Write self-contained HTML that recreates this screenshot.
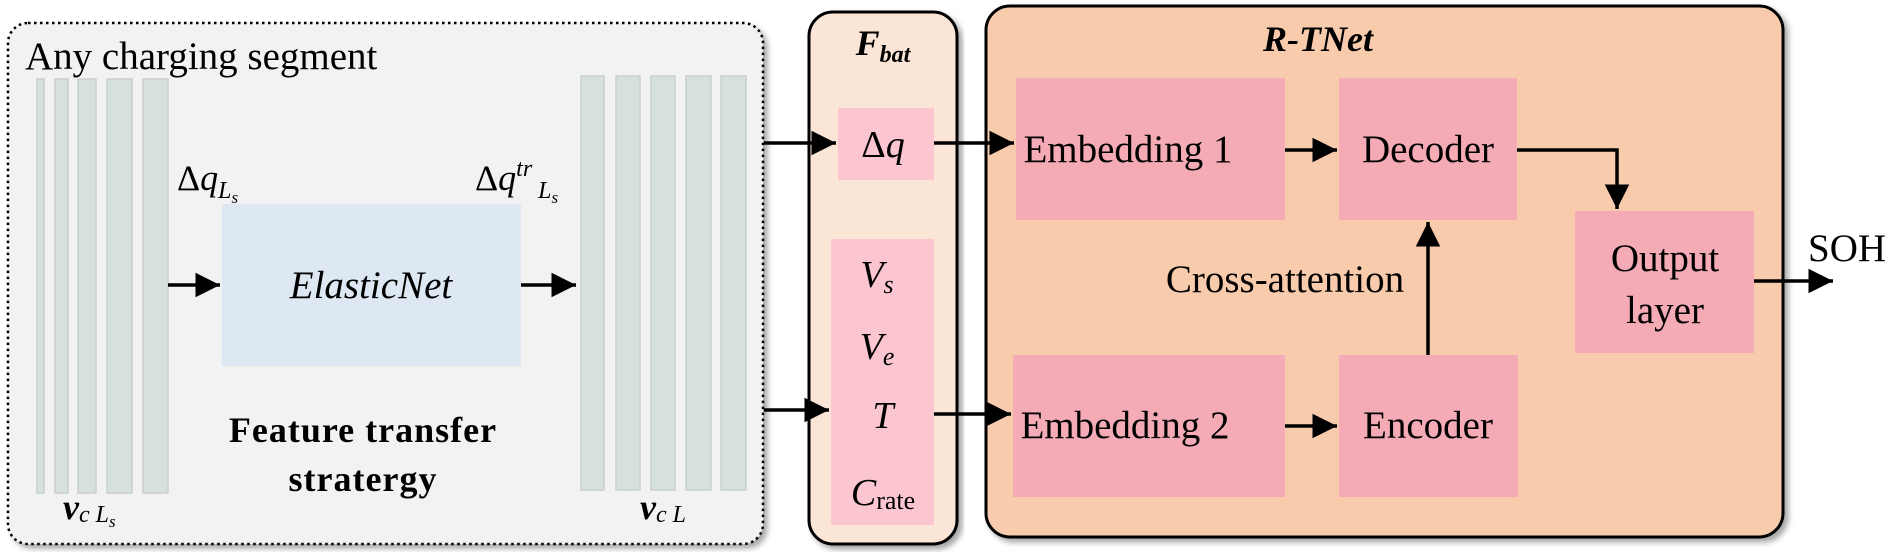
<!DOCTYPE html>
<html><head><meta charset="utf-8"><style>
html,body{margin:0;padding:0;background:#fff;}
svg{display:block;}
text{font-family:"Liberation Serif",serif;fill:#000;}
</style></head><body>
<svg width="1892" height="552" viewBox="0 0 1892 552" xmlns="http://www.w3.org/2000/svg">
<defs>
<marker id="a" markerWidth="8" markerHeight="8" refX="7" refY="4" orient="auto" markerUnits="strokeWidth">
<path d="M0,0.5 L7,4 L0,7.5 Z" fill="#000"/></marker>
<filter id="sh" x="-5%" y="-5%" width="110%" height="110%"><feDropShadow dx="4" dy="4" stdDeviation="3" flood-color="#000" flood-opacity="0.35"/></filter>
</defs>
<!-- left dotted box -->
<rect x="8" y="23" width="755" height="521" rx="20" fill="#f2f2f2" stroke="#000" stroke-width="2.5" stroke-dasharray="2.5,3.5" filter="url(#sh)"/>
<text x="25" y="69" font-size="39">Any charging segment</text>
<g fill="#d6e0dc" stroke="#c8cfcc" stroke-width="1.5">
<rect x="37" y="79" width="7" height="414"/><rect x="55" y="79" width="13" height="414"/>
<rect x="78" y="79" width="18" height="414"/><rect x="107" y="79" width="25" height="414"/>
<rect x="143" y="79" width="25" height="414"/>
<rect x="581" y="76" width="23" height="414"/><rect x="616" y="76" width="24" height="414"/>
<rect x="651" y="76" width="24" height="414"/><rect x="686" y="76" width="25" height="414"/>
<rect x="721" y="76" width="25" height="414"/>
</g>
<rect x="222" y="204" width="299" height="162" fill="#dde8f3"/>
<text x="371" y="298" font-size="39" font-style="italic" text-anchor="middle">ElasticNet</text>
<text x="177" y="190" font-size="36">Δ<tspan font-style="italic">q</tspan><tspan font-size="24" font-style="italic" dy="8">L<tspan font-size="17" dy="5">s</tspan></tspan></text>
<text x="475" y="190" font-size="36">Δ<tspan font-style="italic">q</tspan><tspan font-size="24" font-style="italic" dy="-14">tr</tspan><tspan font-size="24" font-style="italic" dx="6" dy="22">L<tspan font-size="17" dy="5">s</tspan></tspan></text>
<text x="63" y="519" font-size="36" font-weight="bold" font-style="italic">v<tspan font-size="24" font-weight="normal" dy="3">c L<tspan font-size="17" dy="5">s</tspan></tspan></text>
<text x="640" y="519" font-size="36" font-weight="bold" font-style="italic">v<tspan font-size="24" font-weight="normal" dy="3">c L</tspan></text>
<text x="363" y="442" font-size="36" font-weight="bold" text-anchor="middle" letter-spacing="1">Feature transfer</text>
<text x="363" y="491" font-size="36" font-weight="bold" text-anchor="middle" letter-spacing="1">stratergy</text>
<g stroke="#000" stroke-width="3.5" fill="none" marker-end="url(#a)">
<line x1="168" y1="285" x2="220" y2="285"/>
<line x1="521" y1="285" x2="576" y2="285"/>
</g>
<!-- F_bat -->
<rect x="809" y="12" width="148" height="532" rx="24" fill="#fbe5d6" stroke="#000" stroke-width="3" filter="url(#sh)"/>
<text x="883" y="55" font-size="36" font-weight="bold" font-style="italic" text-anchor="middle">F<tspan font-size="24" dy="7">bat</tspan></text>
<rect x="838" y="108" width="96" height="72" fill="#fcc6d0"/>
<rect x="831" y="239" width="103" height="286" fill="#fcc6d0"/>
<text x="883" y="157" font-size="38" text-anchor="middle">Δ<tspan font-style="italic">q</tspan></text>
<text x="877" y="287" font-size="38" font-style="italic" text-anchor="middle">V<tspan font-size="26" dy="6">s</tspan></text>
<text x="877" y="359" font-size="38" font-style="italic" text-anchor="middle">V<tspan font-size="26" dy="6">e</tspan></text>
<text x="883" y="428" font-size="38" font-style="italic" text-anchor="middle">T</text>
<text x="883" y="505" font-size="38" font-style="italic" text-anchor="middle">C<tspan font-size="26" font-style="normal" dy="4">rate</tspan></text>
<!-- R-TNet -->
<rect x="986" y="6" width="797" height="531" rx="24" fill="#f8cbad" stroke="#000" stroke-width="3" filter="url(#sh)"/>
<text x="1318" y="51" font-size="36" font-weight="bold" font-style="italic" text-anchor="middle">R-TNet</text>
<g fill="#f4abb5">
<rect x="1016" y="78" width="269" height="142"/>
<rect x="1013" y="355" width="272" height="142"/>
<rect x="1339" y="78" width="178" height="142"/>
<rect x="1339" y="355" width="179" height="142"/>
<rect x="1575" y="211" width="179" height="142"/>
</g>
<g font-size="39" text-anchor="middle">
<text x="1128" y="162">Embedding 1</text>
<text x="1125" y="438">Embedding 2</text>
<text x="1428" y="162">Decoder</text>
<text x="1428" y="438">Encoder</text>
<text x="1665" y="271">Output</text>
<text x="1665" y="323">layer</text>
<text x="1285" y="292">Cross-attention</text>
</g>
<text x="1808" y="261" font-size="39">SOH</text>
<g stroke="#000" stroke-width="3.5" fill="none" marker-end="url(#a)">
<line x1="764" y1="143" x2="836" y2="143"/>
<line x1="764" y1="410" x2="829" y2="410"/>
<line x1="934" y1="143" x2="1014" y2="143"/>
<line x1="934" y1="414" x2="1011" y2="414"/>
<line x1="1285" y1="150" x2="1337" y2="150"/>
<line x1="1285" y1="426" x2="1337" y2="426"/>
<line x1="1428" y1="355" x2="1428" y2="222"/>
<polyline points="1517,150 1617,150 1617,209"/>
<line x1="1754" y1="281" x2="1833" y2="281"/>
</g>
</svg>
</body></html>
